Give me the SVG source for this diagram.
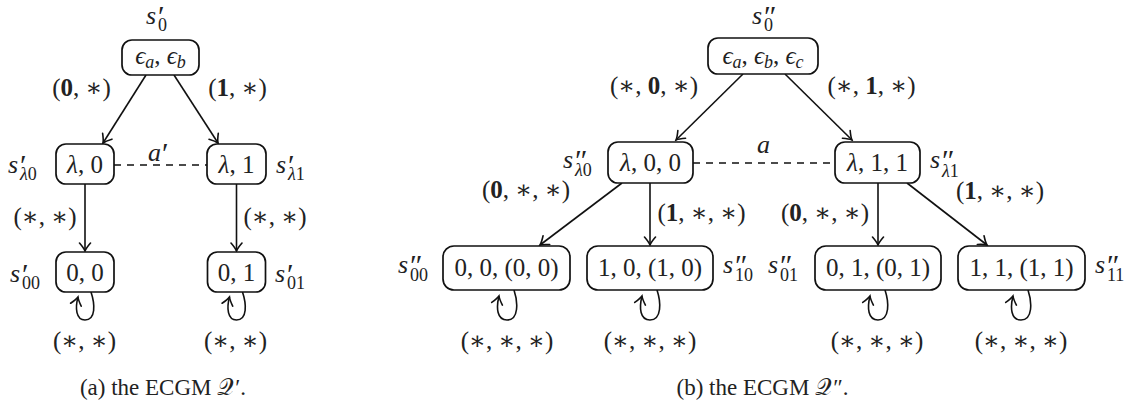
<svg xmlns="http://www.w3.org/2000/svg" width="1132" height="407" viewBox="0 0 1132 407">
<style>
text{font-family:"Liberation Serif","DejaVu Serif",serif;font-size:25px;fill:#222}
.m{text-anchor:middle}
.i{font-style:italic}
.b{font-weight:bold}
.sub{font-size:18px}
.s{font-size:26px;font-style:italic}
.pr{font-size:30px}
.cap{font-size:23px;text-anchor:middle}
.box{fill:#fff;stroke:#111;stroke-width:1.7}
.e{fill:none;stroke:#111;stroke-width:1.6}
.d{fill:none;stroke:#111;stroke-width:1.6;stroke-dasharray:7 6}
</style>
<defs>
<marker id="ar" markerUnits="userSpaceOnUse" viewBox="-10 -7 12 14" markerWidth="12" markerHeight="14" refX="0" refY="0" orient="auto">
<path d="M -8 -5.5 Q -3 -1.2 0 0 Q -3 1.2 -8 5.5" fill="none" stroke="#111" stroke-width="1.6" stroke-linecap="round"/>
</marker>
</defs>

<g id="connectors">
<line class="e" x1="146" y1="75" x2="103" y2="143" marker-end="url(#ar)"/>
<line class="e" x1="174" y1="75" x2="218" y2="143" marker-end="url(#ar)"/>
<line class="e" x1="85" y1="184" x2="85" y2="251" marker-end="url(#ar)"/>
<line class="e" x1="236.5" y1="184" x2="236.5" y2="251" marker-end="url(#ar)"/>
<line class="d" x1="114" y1="165" x2="207" y2="165"/>
<path class="e" d="M 91 292 C 95 304 96 320 85 320 C 76 320 75 308 78 297" marker-end="url(#ar)"/>
<path class="e" d="M 242.5 292 C 246.5 304 247.5 320 236.5 320 C 227.5 320 226.5 308 229.5 297" marker-end="url(#ar)"/>

<line class="e" x1="743" y1="74" x2="676" y2="140" marker-end="url(#ar)"/>
<line class="e" x1="785" y1="74" x2="852" y2="140" marker-end="url(#ar)"/>
<line class="d" x1="693" y1="163" x2="835" y2="163"/>
<line class="e" x1="622" y1="183" x2="540" y2="245" marker-end="url(#ar)"/>
<line class="e" x1="650" y1="183" x2="650" y2="245" marker-end="url(#ar)"/>
<line class="e" x1="878" y1="183" x2="878" y2="245" marker-end="url(#ar)"/>
<line class="e" x1="907" y1="183" x2="987" y2="245" marker-end="url(#ar)"/>
<path class="e" d="M 514 290 C 518 302 519 320 507 320 C 497 320 496 308 499 296" marker-end="url(#ar)"/>
<path class="e" d="M 657 290 C 661 302 662 320 650 320 C 640 320 639 308 642 296" marker-end="url(#ar)"/>
<path class="e" d="M 885 290 C 889 302 890 320 878 320 C 868 320 867 308 870 296" marker-end="url(#ar)"/>
<path class="e" d="M 1028 290 C 1032 302 1033 320 1021 320 C 1011 320 1010 308 1013 296" marker-end="url(#ar)"/>
</g>

<g id="edge-labels">
<text class="m" x="81.5" y="96">(<tspan class="b">0</tspan>, ∗)</text>
<text class="m" x="237.5" y="96">(<tspan class="b">1</tspan>, ∗)</text>
<text class="m" x="45" y="225">(∗, ∗)</text>
<text class="m" x="275" y="225">(∗, ∗)</text>
<text class="m" x="84.5" y="349">(∗, ∗)</text>
<text class="m" x="235.5" y="349">(∗, ∗)</text>
<text x="148" y="161"><tspan class="s">a</tspan><tspan class="pr" x="162" y="163">′</tspan></text>

<text class="m" x="654" y="94">(∗, <tspan class="b">0</tspan>, ∗)</text>
<text class="m" x="871.5" y="94">(∗, <tspan class="b">1</tspan>, ∗)</text>
<text x="757" y="153" class="s">a</text>
<text class="m" x="526" y="198">(<tspan class="b">0</tspan>, ∗, ∗)</text>
<text class="m" x="701.5" y="221">(<tspan class="b">1</tspan>, ∗, ∗)</text>
<text class="m" x="825" y="221">(<tspan class="b">0</tspan>, ∗, ∗)</text>
<text class="m" x="1000" y="199">(<tspan class="b">1</tspan>, ∗, ∗)</text>
<text class="m" x="507" y="349">(∗, ∗, ∗)</text>
<text class="m" x="650" y="349">(∗, ∗, ∗)</text>
<text class="m" x="877" y="349">(∗, ∗, ∗)</text>
<text class="m" x="1021" y="349">(∗, ∗, ∗)</text>
</g>

<g id="node-s0p">
<rect class="box" x="122" y="40" width="77" height="35" rx="10"/>
<text class="m" x="160.5" y="64"><tspan class="i">ϵ</tspan><tspan class="sub i" dy="4">a</tspan><tspan dy="-4">, </tspan><tspan class="i">ϵ</tspan><tspan class="sub i" dy="4">b</tspan></text>
<text x="146" y="24"><tspan class="s">s</tspan><tspan class="pr" x="158" y="26">′</tspan><tspan class="sub" x="158" y="31">0</tspan></text>
</g>
<g id="node-sl0p">
<rect class="box" x="56" y="144" width="58" height="40" rx="10"/>
<text class="m" x="85" y="173"><tspan class="i">λ</tspan>, 0</text>
<text x="8" y="173"><tspan class="s">s</tspan><tspan class="pr" x="20" y="175">′</tspan><tspan class="sub i" x="20" y="180">λ</tspan><tspan class="sub">0</tspan></text>
</g>
<g id="node-sl1p">
<rect class="box" x="207" y="144" width="59" height="40" rx="10"/>
<text class="m" x="236.5" y="173"><tspan class="i">λ</tspan>, 1</text>
<text x="276" y="173"><tspan class="s">s</tspan><tspan class="pr" x="288" y="175">′</tspan><tspan class="sub i" x="288" y="180">λ</tspan><tspan class="sub">1</tspan></text>
</g>
<g id="node-s00p">
<rect class="box" x="56" y="252" width="58" height="40" rx="10"/>
<text class="m" x="85" y="281">0, 0</text>
<text x="10" y="282"><tspan class="s">s</tspan><tspan class="pr" x="22" y="284">′</tspan><tspan class="sub" x="22" y="289">00</tspan></text>
</g>
<g id="node-s01p">
<rect class="box" x="207.5" y="252" width="58" height="40" rx="10"/>
<text class="m" x="236.5" y="281">0, 1</text>
<text x="275" y="282"><tspan class="s">s</tspan><tspan class="pr" x="287" y="284">′</tspan><tspan class="sub" x="287" y="289">01</tspan></text>
</g>

<g id="node-s0pp">
<rect class="box" x="708" y="38" width="110" height="36" rx="10"/>
<text class="m" x="763" y="64"><tspan class="i">ϵ</tspan><tspan class="sub i" dy="4">a</tspan><tspan dy="-4">, </tspan><tspan class="i">ϵ</tspan><tspan class="sub i" dy="4">b</tspan><tspan dy="-4">, </tspan><tspan class="i">ϵ</tspan><tspan class="sub i" dy="4">c</tspan></text>
<text x="752" y="24"><tspan class="s">s</tspan><tspan class="pr" x="764" y="26">″</tspan><tspan class="sub" x="764" y="31">0</tspan></text>
</g>
<g id="node-sl0pp">
<rect class="box" x="608" y="142" width="85" height="41" rx="10"/>
<text class="m" x="650.5" y="171"><tspan class="i">λ</tspan>, 0, 0</text>
<text x="563" y="168"><tspan class="s">s</tspan><tspan class="pr" x="575" y="170">″</tspan><tspan class="sub i" x="575" y="176">λ</tspan><tspan class="sub">0</tspan></text>
</g>
<g id="node-sl1pp">
<rect class="box" x="835" y="142" width="85" height="41" rx="10"/>
<text class="m" x="877.5" y="171"><tspan class="i">λ</tspan>, 1, 1</text>
<text x="930" y="168"><tspan class="s">s</tspan><tspan class="pr" x="942" y="170">″</tspan><tspan class="sub i" x="942" y="177">λ</tspan><tspan class="sub">1</tspan></text>
</g>
<g id="node-s00pp">
<rect class="box" x="443" y="246" width="127" height="44" rx="11"/>
<text class="m" x="506.5" y="276">0, 0, (0, 0)</text>
<text x="398" y="273"><tspan class="s">s</tspan><tspan class="pr" x="410" y="275">″</tspan><tspan class="sub" x="410" y="281">00</tspan></text>
</g>
<g id="node-s10pp">
<rect class="box" x="587" y="246" width="126" height="44" rx="11"/>
<text class="m" x="650" y="276">1, 0, (1, 0)</text>
<text x="723" y="273"><tspan class="s">s</tspan><tspan class="pr" x="735" y="275">″</tspan><tspan class="sub" x="735" y="281">10</tspan></text>
</g>
<g id="node-s01pp">
<rect class="box" x="815" y="246" width="126" height="44" rx="11"/>
<text class="m" x="878" y="276">0, 1, (0, 1)</text>
<text x="768" y="273"><tspan class="s">s</tspan><tspan class="pr" x="780" y="275">″</tspan><tspan class="sub" x="780" y="281">01</tspan></text>
</g>
<g id="node-s11pp">
<rect class="box" x="958" y="246" width="127" height="44" rx="11"/>
<text class="m" x="1021.5" y="276">1, 1, (1, 1)</text>
<text x="1095" y="273"><tspan class="s">s</tspan><tspan class="pr" x="1107" y="275">″</tspan><tspan class="sub" x="1107" y="281">11</tspan></text>
</g>

<g id="captions">
<text class="cap" x="163" y="395">(a) the ECGM 𝒬<tspan dx="1">′</tspan>.</text>
<text class="cap" x="762.5" y="395">(b) the ECGM 𝒬<tspan dx="1">″</tspan>.</text>
</g>
</svg>
